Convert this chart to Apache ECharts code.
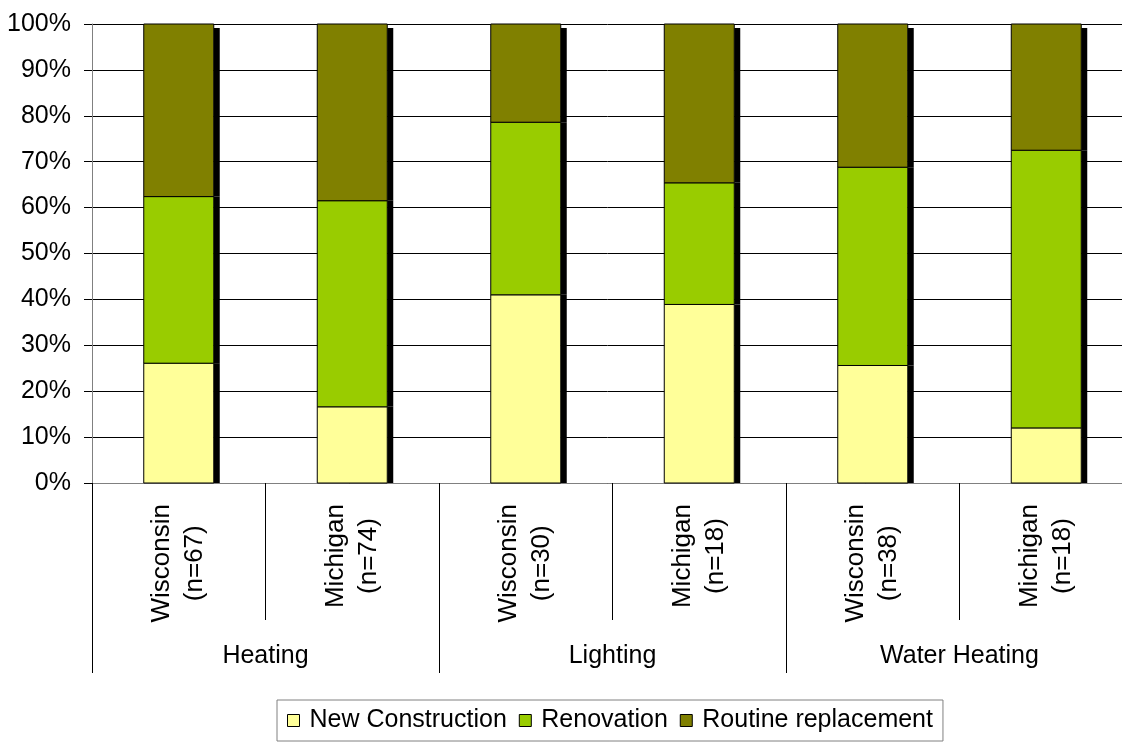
<!DOCTYPE html>
<html>
<head>
<meta charset="utf-8">
<script src="https://cdn.jsdelivr.net/npm/echarts@6/dist/echarts.min.js"></script>
<style>
  html, body { margin: 0; padding: 0; background: #ffffff; }
  #chart { width: 1122px; height: 742px; }
</style>
</head>
<body>
<div id="chart"></div>
<script>
// Category labels (two lines each) and the end-use groups beneath them
const states = ['Wisconsin', 'Michigan', 'Wisconsin', 'Michigan', 'Wisconsin', 'Michigan'];
const sampleSizes = ['(n=67)', '(n=74)', '(n=30)', '(n=18)', '(n=38)', '(n=18)'];
const groups = ['Heating', 'Lighting', 'Water Heating'];

// Share of projects by type, percent
const newConstruction = [26.1, 16.6, 41.0, 38.9, 25.6, 12.0];
const renovation = [36.3, 44.9, 37.6, 26.5, 43.2, 60.5];
const routineReplacement = [37.6, 38.5, 21.4, 34.6, 31.2, 27.5];

const seriesNames = ['New Construction', 'Renovation', 'Routine replacement'];
const seriesColors = ['#FFFF99', '#99CC00', '#808000'];

const FONT = "'Liberation Sans', Arial, sans-serif";
const BAR_WIDTH = 70;
const SHADOW = 6;
const categories = states.map((s, i) => s + '\n' + sampleSizes[i]);

// Stack the three shares: each item is [category, lower edge, upper edge]
const layers = [newConstruction, renovation, routineReplacement];
const stacked = [];
const running = categories.map(() => 0);
layers.forEach((values) => {
  stacked.push(values.map((v, i) => {
    const lo = running[i];
    running[i] = lo + v;
    return [i, lo, lo + v];
  }));
});

// Draws one stacked segment with its black drop shadow strip on the right
function segmentRenderer(color, isTop) {
  return function (params, api) {
    const idx = api.value(0);
    const lowPt = api.coord([idx, api.value(1)]);
    const highPt = api.coord([idx, api.value(2)]);
    const x = lowPt[0] - BAR_WIDTH / 2;
    const y = highPt[1];
    const h = lowPt[1] - highPt[1];
    const drop = isTop ? 4 : 0;
    return {
      type: 'group',
      children: [
        {
          type: 'rect',
          shape: { x: x + BAR_WIDTH, y: y + drop, width: SHADOW, height: Math.max(0, h - drop) },
          style: { fill: '#000000' }
        },
        {
          type: 'rect',
          shape: { x: x, y: y, width: BAR_WIDTH, height: h },
          style: { fill: color, stroke: '#000000', lineWidth: 1 }
        }
      ]
    };
  };
}

function segmentSeries(k) {
  return {
    name: seriesNames[k],
    type: 'custom',
    xAxisIndex: 0,
    yAxisIndex: 0,
    renderItem: segmentRenderer(seriesColors[k], k === layers.length - 1),
    encode: { x: 0, y: [1, 2] },
    itemStyle: { color: seriesColors[k], borderColor: '#000000', borderWidth: 1 },
    data: stacked[k],
    z: 2
  };
}

const chart = echarts.init(document.getElementById('chart'), null, { renderer: 'canvas' });
chart.setOption({
  animation: false,
  backgroundColor: '#ffffff',
  textStyle: { fontFamily: FONT, color: '#000000' },
  grid: {
    left: 92,
    top: 24,
    right: -11,
    bottom: 259,
    containLabel: false,
    outerBoundsMode: 'none'
  },
  legend: {
    left: 277,
    top: 700,
    orient: 'horizontal',
    data: seriesNames.map((n, k) => ({
      name: n,
      itemStyle: { color: seriesColors[k], borderColor: '#000000', borderWidth: 1 }
    })),
    icon: 'rect',
    itemWidth: 12,
    itemHeight: 12,
    itemGap: 12,
    padding: [8, 10, 8, 10],
    borderColor: '#808080',
    borderWidth: 1,
    textStyle: {
      fontFamily: FONT,
      fontSize: 25,
      color: '#000000',
      padding: [0, 0, 0, 5]
    }
  },
  xAxis: [
    {
      type: 'category',
      position: 'bottom',
      data: categories,
      boundaryGap: true,
      axisLine: { show: true, lineStyle: { color: '#808080', width: 1 } },
      axisTick: {
        show: true,
        interval: 0,
        alignWithLabel: false,
        length: 137,
        lineStyle: { color: '#000000', width: 1 }
      },
      axisLabel: {
        interval: 0,
        rotate: 90,
        margin: 21,
        formatter: function (value, index) {
          return '{a|' + states[index] + '}\n{a|' + sampleSizes[index] + '}';
        },
        rich: {
          a: {
            fontFamily: FONT,
            fontSize: 26,
            lineHeight: 33,
            align: 'center',
            color: '#000000'
          }
        }
      },
      splitLine: { show: false }
    },
    {
      type: 'category',
      position: 'bottom',
      data: groups,
      boundaryGap: true,
      axisLine: { show: false },
      axisTick: {
        show: true,
        interval: 0,
        alignWithLabel: false,
        length: 190,
        lineStyle: { color: '#000000', width: 1 }
      },
      axisLabel: {
        interval: 0,
        margin: 161,
        fontFamily: FONT,
        fontSize: 25,
        color: '#000000'
      },
      splitLine: { show: false }
    }
  ],
  yAxis: {
    type: 'value',
    min: 0,
    max: 100,
    interval: 10,
    axisLine: { show: true, lineStyle: { color: '#808080', width: 1 } },
    axisTick: { show: true, length: 8, lineStyle: { color: '#000000', width: 1 } },
    axisLabel: {
      formatter: '{value}%',
      margin: 21,
      fontFamily: FONT,
      fontSize: 25,
      color: '#000000'
    },
    splitLine: { show: true, lineStyle: { color: '#000000', width: 1 } }
  },
  series: layers.map((_, k) => segmentSeries(k))
});
</script>
</body>
</html>
